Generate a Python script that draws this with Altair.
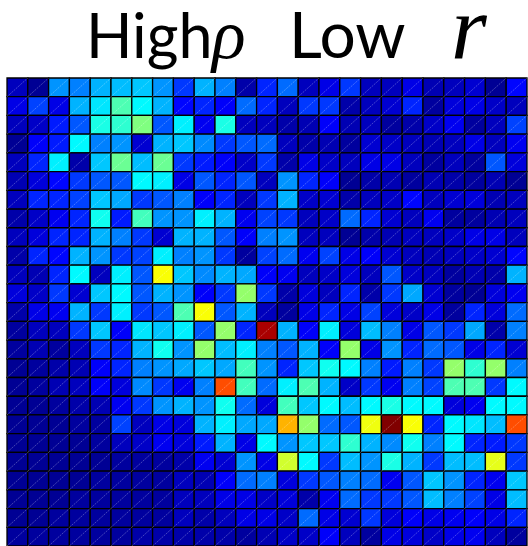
import altair as alt
import pandas as pd

# cell values (0-100, jet colour scale), row 0 = top row, column 0 = left column
r00 = [6, 2, 27, 25, 30, 31, 32, 27, 18, 30, 25, 4, 16, 23, 6, 10, 18, 6, 6, 10, 5, 6, 8, 2, 13]
r01 = [10, 19, 10, 30, 35, 45, 37, 30, 13, 16, 12, 23, 16, 6, 18, 18, 4, 6, 8, 16, 3, 9, 10, 7, 6]
r02 = [6, 7, 15, 21, 40, 42, 50, 21, 36, 11, 40, 6, 6, 4, 5, 12, 5, 6, 3, 4, 7, 11, 3, 6, 19]
r03 = [2, 12, 15, 37, 25, 27, 8, 30, 32, 26, 18, 21, 23, 6, 4, 5, 3, 8, 7, 6, 5, 6, 10, 6, 11]
r04 = [6, 16, 36, 4, 32, 48, 31, 48, 18, 15, 12, 7, 18, 4, 10, 7, 6, 10, 10, 6, 3, 6, 3, 21, 9]
r05 = [5, 9, 13, 18, 21, 21, 37, 36, 10, 21, 16, 21, 6, 27, 16, 12, 2, 4, 5, 3, 5, 4, 3, 5, 2]
r06 = [6, 16, 16, 19, 32, 29, 18, 21, 25, 12, 16, 6, 18, 30, 7, 8, 4, 6, 7, 13, 6, 8, 9, 5, 6]
r07 = [4, 7, 11, 16, 39, 15, 44, 27, 27, 36, 30, 11, 19, 18, 6, 7, 23, 16, 8, 6, 11, 3, 3, 5, 6]
r08 = [6, 9, 16, 16, 30, 25, 18, 8, 30, 30, 21, 12, 25, 27, 6, 6, 2, 4, 5, 6, 6, 7, 10, 10, 6]
r09 = [4, 16, 13, 30, 27, 18, 19, 36, 25, 27, 18, 3, 19, 23, 11, 19, 10, 12, 8, 6, 5, 6, 7, 8, 13]
r10 = [6, 5, 16, 37, 6, 36, 21, 62, 32, 26, 30, 29, 12, 11, 6, 7, 9, 6, 21, 7, 6, 3, 5, 4, 30]
r11 = [9, 7, 18, 8, 32, 37, 21, 30, 27, 12, 18, 52, 18, 4, 9, 6, 16, 4, 18, 29, 8, 3, 2, 9, 11]
r12 = [4, 10, 11, 30, 18, 36, 18, 21, 45, 62, 21, 30, 6, 3, 10, 16, 10, 19, 9, 7, 10, 3, 16, 9, 23]
r13 = [3, 6, 6, 18, 32, 12, 35, 32, 36, 21, 52, 16, 96, 30, 12, 36, 9, 31, 25, 10, 21, 18, 29, 4, 25]
r14 = [3, 5, 3, 6, 18, 16, 30, 39, 27, 52, 31, 36, 25, 21, 30, 12, 52, 10, 27, 16, 23, 21, 10, 16, 8]
r15 = [2, 3, 4, 5, 12, 16, 25, 27, 29, 32, 29, 44, 27, 16, 32, 39, 37, 25, 15, 25, 18, 52, 42, 52, 25]
r16 = [2, 3, 5, 6, 12, 9, 26, 18, 11, 25, 80, 44, 23, 36, 45, 30, 7, 18, 11, 25, 19, 45, 45, 18, 37]
r17 = [2, 2, 3, 4, 5, 11, 18, 27, 30, 27, 39, 23, 9, 44, 32, 37, 31, 37, 40, 37, 37, 9, 11, 37, 37]
r18 = [2, 2, 2, 3, 3, 19, 6, 10, 9, 30, 36, 29, 29, 70, 52, 23, 21, 61, 100, 62, 16, 37, 35, 31, 80]
r19 = [2, 2, 2, 2, 3, 6, 7, 11, 9, 15, 30, 10, 37, 27, 32, 32, 42, 30, 26, 39, 25, 37, 16, 15, 18]
r20 = [2, 2, 2, 2, 2, 3, 3, 3, 4, 11, 8, 27, 10, 58, 37, 18, 31, 27, 40, 30, 18, 31, 31, 60, 18]
r21 = [2, 2, 2, 2, 3, 3, 3, 3, 6, 5, 12, 23, 25, 9, 18, 21, 25, 23, 11, 21, 32, 27, 16, 11, 32]
r22 = [2, 2, 2, 3, 3, 3, 3, 3, 6, 6, 10, 10, 7, 9, 4, 11, 23, 18, 18, 21, 31, 25, 19, 10, 31]
r23 = [2, 2, 3, 3, 3, 3, 3, 3, 6, 4, 6, 10, 10, 7, 23, 10, 8, 18, 9, 12, 10, 11, 12, 10, 16]
r24 = [3, 3, 3, 3, 3, 3, 4, 4, 4, 4, 4, 3, 5, 7, 7, 12, 6, 3, 10, 9, 7, 10, 11, 6, 3]

rows = [r00, r01, r02, r03, r04, r05, r06, r07, r08, r09, r10, r11, r12,
        r13, r14, r15, r16, r17, r18, r19, r20, r21, r22, r23, r24]

jet_stops = [0, 12.5, 37.5, 62.5, 87.5, 100]
jet_colors = ["#000080", "#0000ff", "#00ffff", "#ffff00", "#ff0000", "#800000"]

title_parts = ["High", "ρ", "Low", "r"]

records = []
for ri, row in enumerate(rows):
    for ci, v in enumerate(row):
        records.append({"row": ri, "col": ci, "value": v})
df = pd.DataFrame(records)

n_rows = len(rows)
n_cols = len(rows[0])

xs = alt.Scale(domain=[0, n_cols], nice=False, zero=False)
ys = alt.Scale(domain=[0, n_rows], nice=False, zero=False, reverse=True)

base = alt.Chart(df).transform_calculate(col2="datum.col + 1", row2="datum.row + 1")

cells = base.mark_rect(stroke="black", strokeWidth=1.3).encode(
    x=alt.X("col:Q", scale=xs, axis=None),
    x2="col2:Q",
    y=alt.Y("row:Q", scale=ys, axis=None),
    y2="row2:Q",
    color=alt.Color("value:Q", scale=alt.Scale(domain=jet_stops, range=jet_colors, interpolate="rgb"), legend=None),
)

diag = base.mark_rule(color="white", opacity=0.35, strokeWidth=0.8, strokeDash=[2, 1]).encode(
    x=alt.X("col:Q", scale=xs, axis=None),
    x2="col2:Q",
    y=alt.Y("row2:Q", scale=ys, axis=None),
    y2="row:Q",
)


def title_text(txt, xpos, font, size, style="normal"):
    return alt.Chart(pd.DataFrame({"t": [txt]})).mark_text(
        font=font, fontSize=size, fontStyle=style, align="left",
        baseline="alphabetic", color="black"
    ).encode(text="t:N", x=alt.value(xpos), y=alt.value(-20))


t_high = title_text(title_parts[0], 79, "Lato", 61)
t_rho = title_text(title_parts[1], 205, "Liberation Serif", 70, "italic")
t_low = title_text(title_parts[2], 282, "Lato", 64)
t_r = title_text(title_parts[3], 444, "Liberation Serif", 92, "italic")

chart = alt.layer(cells, diag, t_high, t_rho, t_low, t_r).properties(
    width=520,
    height=468,
    autosize=alt.AutoSizeParams(type="none"),
    padding={"left": 7, "top": 78, "right": 1, "bottom": 0},
).configure_view(stroke=None)

chart.save("out.html", embed_options={"renderer": "svg", "actions": False})
